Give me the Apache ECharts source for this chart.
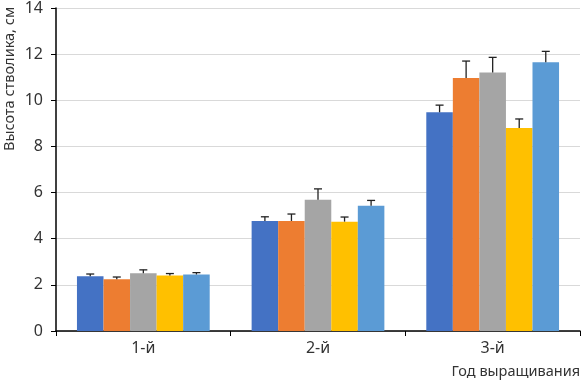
<!DOCTYPE html>
<html><head><meta charset="utf-8">
<script src="https://cdn.jsdelivr.net/npm/echarts@6/dist/echarts.min.js"></script>
<style>html,body{margin:0;padding:0;background:#fff}#c{width:581px;height:380px}</style>
</head><body><div id="c"></div>
<script>
const categories = ['1-й', '2-й', '3-й'];
const s1 = [2.37, 4.77, 9.48];
const s2 = [2.24, 4.77, 10.97];
const s3 = [2.50, 5.69, 11.20];
const s4 = [2.41, 4.74, 8.80];
const s5 = [2.45, 5.43, 11.65];
const e1 = [0.10, 0.18, 0.31];
const e2 = [0.10, 0.30, 0.73];
const e3 = [0.15, 0.47, 0.66];
const e4 = [0.08, 0.20, 0.39];
const e5 = [0.08, 0.23, 0.47];
const yTicks = [0, 2, 4, 6, 8, 10, 12, 14];
const yTitle = 'Высота стволика, см';
const xTitle = 'Год выращивания';

const values = [s1, s2, s3, s4, s5];
const errors = [e1, e2, e3, e4, e5];
const colors = ['#4472C4', '#ED7D31', '#A5A5A5', '#FFC000', '#5B9BD5'];
const catGap = 0.24;
const font = 'Noto Sans';

const series = [];
values.forEach((v, i) => {
  series.push({type: 'bar', data: v, barGap: '0%', barCategoryGap: (catGap * 100) + '%',
    itemStyle: {color: colors[i]}, silent: true});
});
values.forEach((v, i) => {
  series.push({
    type: 'custom', silent: true, z: 10,
    data: v.map((val, k) => [k, val, errors[i][k]]),
    encode: {x: 0, y: 1},
    renderItem: function (params, api) {
      const k = api.value(0), val = api.value(1), err = api.value(2);
      const band = api.size([1, 0])[0];
      const bw = band * (1 - catGap) / values.length;
      const c = api.coord([k, val]);
      const top = api.coord([k, val + err]);
      const x = c[0] + (i - (values.length - 1) / 2) * bw;
      const cap = 4;
      const st = {stroke: '#222', lineWidth: 1.3};
      return {type: 'group', children: [
        {type: 'line', shape: {x1: x, y1: c[1], x2: x, y2: top[1]}, style: st},
        {type: 'line', shape: {x1: x - cap, y1: top[1], x2: x + cap, y2: top[1]}, style: st}
      ]};
    }
  });
});

const chart = echarts.init(document.getElementById('c'));
chart.setOption({
  animation: false,
  textStyle: {fontFamily: font},
  grid: {left: 56, right: 1, top: 6, bottom: 49},
  xAxis: {
    type: 'category', data: categories,
    axisLine: {lineStyle: {color: '#000', width: 1.5}},
    axisTick: {show: true, length: 5, alignWithLabel: false, lineStyle: {color: '#000'}},
    axisLabel: {color: '#333', fontSize: 16, margin: 9, fontFamily: font}
  },
  yAxis: {
    type: 'value', min: yTicks[0], max: yTicks[yTicks.length - 1], interval: 2,
    axisLine: {show: true, lineStyle: {color: '#000', width: 1.5}},
    axisTick: {show: true, length: 5, lineStyle: {color: '#000'}},
    axisLabel: {color: '#333', fontSize: 16, margin: 13, fontFamily: font},
    splitLine: {lineStyle: {color: '#d9d9d9'}}
  },
  graphic: [
    {type: 'text', x: 10, y: 79, rotation: Math.PI / 2,
      style: {text: yTitle, fill: '#333', font: '14.5px "' + font + '"', align: 'center', verticalAlign: 'middle'}},
    {type: 'text', x: 580, y: 372,
      style: {text: xTitle, fill: '#333', font: '14.5px "' + font + '"', align: 'right', verticalAlign: 'middle'}}
  ],
  series: series
});
</script></body></html>
